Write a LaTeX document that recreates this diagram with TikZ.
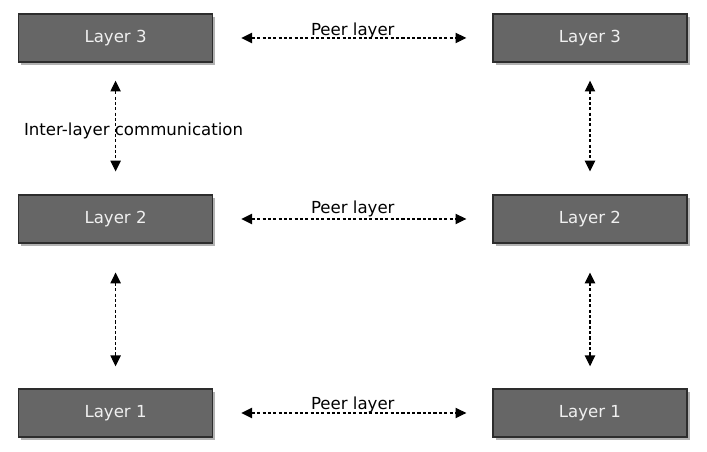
\documentclass[tikz,border=0pt]{standalone}
\usepackage{fontspec}
\setmainfont{DejaVu Sans}
\usepackage{tikz}
\usetikzlibrary{positioning,calc,arrows.meta,shadows}
\definecolor{LayerGray}{RGB}{102,102,102}
\definecolor{LayerEdge}{RGB}{45,45,45}
\definecolor{LayerText}{RGB}{240,240,240}

\begin{document}
\begin{tikzpicture}[
    font=\fontsize{11.8}{13}\selectfont,
    >={Triangle[length=2.7mm,width=2.6mm]},
    layer/.style={
        draw=LayerEdge,
        line width=1pt,
        fill=LayerGray,
        text=LayerText,
        align=center,
        minimum width=4.85cm,
        minimum height=1.2cm,
        drop shadow={shadow xshift=0.07cm, shadow yshift=-0.07cm,
            opacity=0.3, fill=black}
    },
    link/.style={
        <->,
        line width=0.75pt,
        dash pattern=on 2.2pt off 1.6pt
    },
    peerlabel/.style={
        anchor=base,
        inner sep=0pt,
        yshift=1.5pt
    }
]
\useasboundingbox (0,0) rectangle (17.675,11.3);

\node[layer] (left3) at (2.89,10.35) {Layer 3};
\node[layer] (right3) at (14.75,10.35) {Layer 3};
\node[layer] (left2) at (2.89,5.825) {Layer 2};
\node[layer] (right2) at (14.75,5.825) {Layer 2};
\node[layer] (left1) at (2.89,0.975) {Layer 1};
\node[layer] (right1) at (14.75,0.975) {Layer 1};

% peer layers
\draw[link, shorten <=0.7cm, shorten >=0.65cm] (left3) -- (right3)
    node[midway, peerlabel] {Peer layer};
\draw[link, shorten <=0.7cm, shorten >=0.65cm] (left2) -- (right2)
    node[midway, peerlabel, yshift=2.5pt] {Peer layer};
\draw[link, shorten <=0.7cm, shorten >=0.65cm] (left1) -- (right1)
    node[midway, peerlabel, yshift=1pt] {Peer layer};

% inter-layer
\draw[link, shorten <=0.45cm, shorten >=0.57cm] (left3) -- (left2)
    node[midway, xshift=0.45cm, yshift=-0.05cm] {Inter-layer communication};
\draw[link, shorten <=0.45cm, shorten >=0.57cm] (right3) -- (right2);
\draw[link, shorten <=0.72cm, shorten >=0.55cm] (left2) -- (left1);
\draw[link, shorten <=0.72cm, shorten >=0.55cm] (right2) -- (right1);

\end{tikzpicture}
\end{document}
